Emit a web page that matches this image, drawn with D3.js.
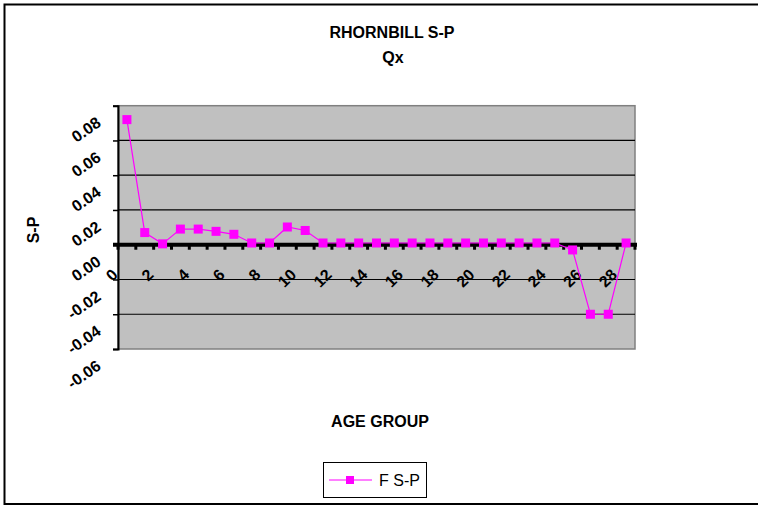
<!DOCTYPE html>
<html><head><meta charset="utf-8">
<script src="https://cdn.jsdelivr.net/npm/d3@7"></script>
<style>
html,body{margin:0;padding:0;background:#fff;}
svg{display:block;font-family:"Liberation Sans",Arial,sans-serif;}
</style></head>
<body><svg id="c" width="758" height="506"></svg>
<script>
const categories = [0,1,2,3,4,5,6,7,8,9,10,11,12,13,14,15,16,17,18,19,20,21,22,23,24,25,26,27,28];
const xTickLabels = ["0","2","4","6","8","10","12","14","16","18","20","22","24","26","28"];
const yTicks = [-0.06,-0.04,-0.02,0.00,0.02,0.04,0.06,0.08];
const seriesName = "F S-P";
const fsp = [0.072,0.007,0.0005,0.009,0.009,0.0077,0.006,0.001,0.001,0.0102,0.0082,
  0.001,0.001,0.001,0.001,0.001,0.001,0.001,0.001,0.001,0.001,0.001,0.001,0.001,0.001,
  -0.003,-0.040,-0.040,0.001];
const title1 = "RHORNBILL S-P", title2 = "Qx";
const xTitle = "AGE GROUP", yTitle = "S-P";

const svg = d3.select("#c");
const L = 118, R = 635, T = 105.7, B = 349;
const x = d3.scaleBand().domain(categories).range([L, R]).paddingInner(0).paddingOuter(0);
const y = d3.scaleLinear().domain([-0.06, 0.08]).range([B, T]);

// outer border
svg.append("rect").attr("x",4.5).attr("y",4.5).attr("width",780).attr("height",499.5)
  .attr("fill","none").attr("stroke","#000").attr("stroke-width",2);

// plot area
svg.append("rect").attr("x",L).attr("y",T).attr("width",R-L).attr("height",B-T)
  .attr("fill","#C0C0C0").attr("stroke","#808080").attr("stroke-width",1.5);

// gridlines
svg.append("g").selectAll("line").data(yTicks.filter(v => v > -0.06 && v < 0.08 && v !== 0))
  .join("line").attr("x1",L).attr("x2",R).attr("y1",d=>y(d)).attr("y2",d=>y(d))
  .attr("stroke","#000").attr("stroke-width",1.2);

// y axis
const yAxis = svg.append("g").attr("transform",`translate(${L},0)`)
  .call(d3.axisLeft(y).tickValues(yTicks).tickSize(5).tickFormat(d => d.toFixed(2)));
yAxis.select(".domain").attr("stroke","#000").attr("stroke-width",2);
yAxis.selectAll(".tick line").attr("stroke","#000").attr("stroke-width",1.5);
yAxis.selectAll(".tick text").attr("x",null).attr("dy",null).attr("text-anchor","end")
  .attr("transform","translate(-16,19) rotate(-35)")
  .attr("font-size",16).attr("font-weight","bold").attr("fill","#000")
  .attr("font-family","'Liberation Sans',Arial,sans-serif");

// x axis at zero
const y0 = y(0);
svg.append("line").attr("x1",L-5).attr("x2",R+2).attr("y1",y0).attr("y2",y0)
  .attr("stroke","#000").attr("stroke-width",4);
const bounds = categories.map(c => x(c)).concat([x(categories[categories.length-1]) + x.bandwidth()]);
svg.append("g").selectAll("line").data(bounds).join("line")
  .attr("x1",d=>d).attr("x2",d=>d).attr("y1",y0).attr("y2",y0+5)
  .attr("stroke","#000").attr("stroke-width",3);
svg.append("g").selectAll("text").data(xTickLabels).join("text")
  .attr("text-anchor","end")
  .attr("transform",d => `translate(${x(+d) + x.bandwidth()/2 - 8},${y0 + 31}) rotate(-45)`)
  .attr("font-size",16).attr("font-weight","bold").attr("fill","#000")
  .text(d=>d);

// series
const line = d3.line().x((d,i)=>x(categories[i]) + x.bandwidth()/2).y(d=>y(d));
svg.append("path").datum(fsp).attr("d",line).attr("fill","none")
  .attr("stroke","#FF00FF").attr("stroke-width",1.2);
svg.append("g").selectAll("rect").data(fsp).join("rect")
  .attr("x",(d,i)=>x(categories[i]) + x.bandwidth()/2 - 4.5)
  .attr("y",d=>y(d)-4.5).attr("width",9).attr("height",9).attr("fill","#FF00FF");

// titles
svg.append("text").attr("x",392).attr("y",38).attr("text-anchor","middle")
  .attr("font-size",16).attr("font-weight","bold").text(title1);
svg.append("text").attr("x",393).attr("y",63).attr("text-anchor","middle")
  .attr("font-size",16).attr("font-weight","bold").text(title2);
svg.append("text").attr("x",380).attr("y",427).attr("text-anchor","middle")
  .attr("font-size",16).attr("font-weight","bold").text(xTitle);
svg.append("text").attr("transform","translate(39,230) rotate(-90)").attr("text-anchor","middle")
  .attr("font-size",16).attr("font-weight","bold").text(yTitle);

// legend
const lg = svg.append("g");
lg.append("rect").attr("x",323.5).attr("y",462.5).attr("width",103).attr("height",35)
  .attr("fill","#fff").attr("stroke","#000").attr("stroke-width",1);
lg.append("line").attr("x1",329).attr("x2",372).attr("y1",480).attr("y2",480)
  .attr("stroke","#FF00FF").attr("stroke-width",1.2);
lg.append("rect").attr("x",346).attr("y",476).attr("width",8).attr("height",8).attr("fill","#FF00FF");
lg.append("text").attr("x",379).attr("y",486).attr("font-size",16).text(seriesName);
</script></body></html>
